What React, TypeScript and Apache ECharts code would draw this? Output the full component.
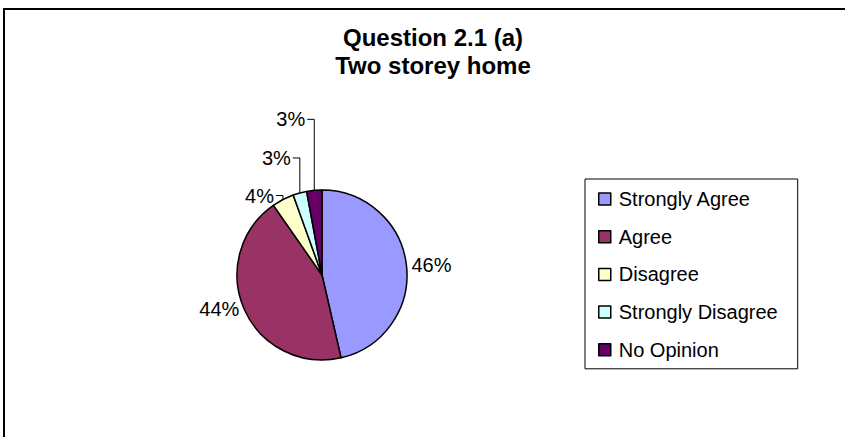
import React, { useEffect, useRef } from "react";
import * as echarts from "echarts";

const categories = ["Strongly Agree", "Agree", "Disagree", "Strongly Disagree", "No Opinion"];
const values = [46.4, 43.9, 4.2, 2.6, 2.9];
const colors = ["#9999FF", "#993366", "#FFFFCC", "#CCFFFF", "#660066"];
const titleLines = ["Question 2.1 (a)", "Two storey home"];

// styling: how far each small-slice label is lifted above its slice (px)
const leaderRise: (number | null)[] = [null, null, 4, 35, 71];

const FONT = "'Liberation Sans', Arial, sans-serif";

export default function App() {
  const ref = useRef<HTMLDivElement>(null);

  useEffect(() => {
    if (!ref.current) return;
    const chart = echarts.init(ref.current, undefined, { renderer: "svg" });
    chart.setOption({
      animation: false,
      backgroundColor: "#ffffff",
      title: {
        text: titleLines.join("\n"),
        left: 433,
        top: 23,
        textAlign: "center",
        padding: 0,
        textStyle: {
          fontFamily: FONT,
          fontSize: 24,
          fontWeight: "bold",
          color: "#000",
          lineHeight: 28,
        },
      },
      legend: {
        orient: "vertical",
        left: 585,
        top: 179,
        padding: [10, 20, 9, 13],
        itemGap: 17.7,
        itemWidth: 12,
        itemHeight: 12,
        icon: "rect",
        borderColor: "#000",
        borderWidth: 1,
        itemStyle: { borderColor: "#000", borderWidth: 1.5 },
        textStyle: {
          fontFamily: FONT,
          fontSize: 20,
          color: "#000",
          lineHeight: 20,
          padding: [0, 0, 0, 3],
        },
        data: categories,
      },
      graphic: [
        {
          type: "rect",
          shape: { x: 4, y: 9, width: 1000, height: 1000 },
          style: { fill: "none", stroke: "#000", lineWidth: 2 },
          silent: true,
          z: -10,
        },
      ],
      series: [
        {
          type: "pie",
          center: [322, 275],
          radius: 85,
          startAngle: 90,
          clockwise: true,
          avoidLabelOverlap: false,
          itemStyle: { borderColor: "#000", borderWidth: 1.5 },
          label: {
            show: true,
            position: "outside",
            fontFamily: FONT,
            fontSize: 20,
            color: "#000",
            distanceToLabelLine: 5,
            formatter: (p: any) => Math.round(p.percent) + "%",
          },
          labelLine: {
            show: true,
            length: 0,
            length2: 0,
            lineStyle: { color: "#000", width: 1 },
          },
          labelLayout: (p: any) => {
            const rise = leaderRise[p.dataIndex];
            if (rise == null || !p.labelLinePoints) return {};
            const sx = p.labelLinePoints[0][0];
            const sy = p.labelLinePoints[0][1];
            const ly = sy - rise;
            return {
              x: sx - 9,
              y: ly,
              align: "right",
              verticalAlign: "middle",
              labelLinePoints: [
                [sx, sy],
                [sx, ly],
                [sx - 7, ly],
              ],
            };
          },
          data: categories.map((name, i) => ({
            name,
            value: values[i],
            itemStyle: { color: colors[i] },
            labelLine: { show: leaderRise[i] != null },
          })),
        },
      ],
    });
    return () => chart.dispose();
  }, []);

  return (
    <div
      ref={ref}
      style={{ position: "absolute", left: 0, top: 0, width: 845, height: 437 }}
    />
  );
}
